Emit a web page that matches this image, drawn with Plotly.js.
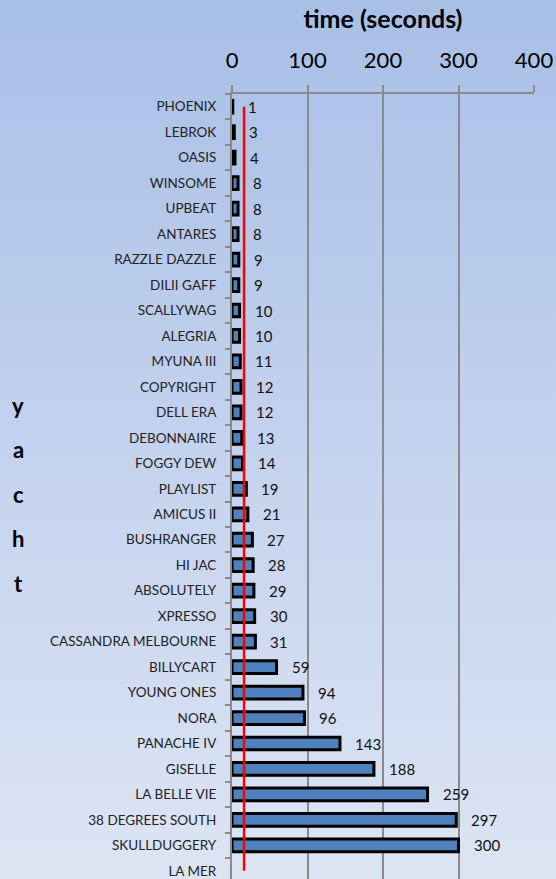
<!DOCTYPE html>
<html>
<head>
<meta charset="utf-8">
<script src="https://cdn.plot.ly/plotly-3.0.1.min.js"></script>
<style>
html,body{margin:0;padding:0;width:556px;height:879px;overflow:hidden;
background:linear-gradient(to bottom,#a8bfe6 0%,#c3d2ee 50%,#dde5f4 100%);}
#chart{width:556px;height:879px;}
</style>
</head>
<body>
<div id="chart"></div>
<script>
const yachts = ["PHOENIX","LEBROK","OASIS","WINSOME","UPBEAT","ANTARES","RAZZLE DAZZLE","DILII GAFF","SCALLYWAG","ALEGRIA","MYUNA III","COPYRIGHT","DELL ERA","DEBONNAIRE","FOGGY DEW","PLAYLIST","AMICUS II","BUSHRANGER","HI JAC","ABSOLUTELY","XPRESSO","CASSANDRA MELBOURNE","BILLYCART","YOUNG ONES","NORA","PANACHE IV","GISELLE","LA BELLE VIE","38 DEGREES SOUTH","SKULLDUGGERY","LA MER"];
const times = [1,3,4,8,8,8,9,9,10,10,11,12,12,13,14,19,21,27,28,29,30,31,59,94,96,143,188,259,297,300,null];
const refValue = 16;
const refCats = ["PHOENIX","LA MER"];
const axisTitleLetters = ["y","a","c","h","t"];

const FONT = "Lato, 'Open Sans', sans-serif";
const plotTop = 94, plotH = 785;

const annotations = [];
yachts.forEach((c,i)=>{
  if (times[i] == null) return;
  annotations.push({x:times[i], y:c, xref:'x', yref:'y', text:String(times[i]),
    showarrow:false, xanchor:'left', yanchor:'middle', xshift:13,
    font:{family:FONT, size:15, color:'#111'}});
});
const letterY = [405,449,494,538,583];
axisTitleLetters.forEach((l,i)=>{
  annotations.push({x:0, y:1-(letterY[i]-plotTop)/plotH, xref:'paper', yref:'paper',
    text:'<b>'+l+'</b>', showarrow:false, xanchor:'center', yanchor:'middle', xshift:-214,
    font:{family:FONT, size:22, color:'#000'}});
});

const data = [
  {type:'bar', orientation:'h', x:times, y:yachts, width:0.5,
   marker:{color:'#4f81bd', line:{color:'#000', width:3}}, hoverinfo:'none'},
  {type:'scatter', mode:'lines', x:[refValue,refValue], y:refCats,
   line:{color:'#ff0000', width:2.5}, hoverinfo:'none'}
];

const layout = {
  width:556, height:879,
  margin:{l:232, r:22, t:94, b:0, pad:0},
  paper_bgcolor:'rgba(0,0,0,0)', plot_bgcolor:'rgba(0,0,0,0)',
  showlegend:false,
  font:{family:FONT},
  xaxis:{side:'top', range:[0,400], tickvals:[0,100,200,300,400],
    showgrid:true, gridcolor:'#8a8a8a', gridwidth:2,
    showline:true, linecolor:'#8a8a8a', linewidth:2,
    ticks:'outside', ticklen:7, tickwidth:2, tickcolor:'#8a8a8a',
    ticklabelstandoff:8,
    tickfont:{family:FONT, size:22, color:'#000'},
    zeroline:false,
    title:{text:'<b>time (seconds)</b>', font:{family:FONT, size:25, color:'#000'}, standoff:10}},
  yaxis:{type:'category', categoryorder:'array', categoryarray:yachts,
    range:[30.32,-0.5], autorange:false,
    showline:true, linecolor:'#8a8a8a', linewidth:2,
    ticks:'outside', tickson:'boundaries', ticklen:5, tickwidth:2, tickcolor:'#8a8a8a',
    ticklabelstandoff:11,
    tickfont:{family:FONT, size:13.5, color:'#222'}, showgrid:false, zeroline:false},
  annotations:annotations
};
Plotly.newPlot('chart', data, layout, {displayModeBar:false, staticPlot:true});
</script>
</body>
</html>
